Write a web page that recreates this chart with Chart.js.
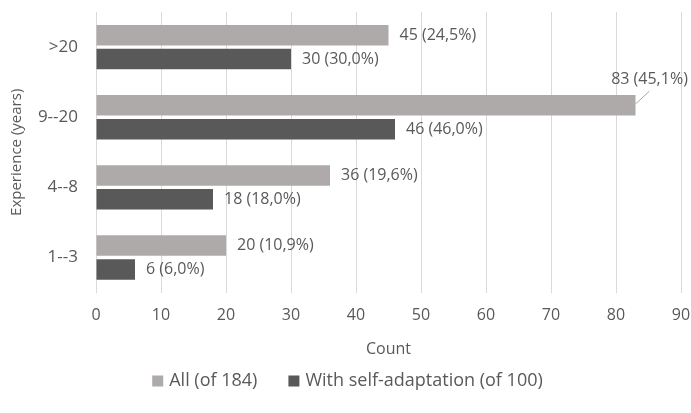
<!DOCTYPE html>
<html>
<head>
<meta charset="utf-8">
<script src="https://cdn.jsdelivr.net/npm/chart.js@4"></script>
<style>
  html, body { margin: 0; padding: 0; background: #fff; }
  #wrap { width: 691px; height: 413px; }
</style>
</head>
<body>
<div id="wrap"><canvas id="myChart" width="691" height="413"></canvas></div>
<script>
const categories = ['>20', '9--20', '4--8', '1--3'];
const allCounts = [45, 83, 36, 20];
const selfCounts = [30, 46, 18, 6];
const totals = [184, 100];
const seriesNames = ['All (of 184)', 'With self-adaptation (of 100)'];
const xTicks = [0, 10, 20, 30, 40, 50, 60, 70, 80, 90];

const FONT = '"Open Sans", sans-serif';
const TEXT = '#595959';

function fmtLabel(v, total) {
    return `${v} (${(v / total * 100).toFixed(1).replace('.', ',')}%)`;
}

// draws "n (p%)" next to each bar
const valueLabels = {
    id: 'valueLabels',
    afterDatasetsDraw(chart) {
        const c = chart.ctx;
        c.save();
        c.font = '16px ' + FONT;
        c.fillStyle = TEXT;
        c.textBaseline = 'middle';
        chart.data.datasets.forEach((ds, di) => {
            const meta = chart.getDatasetMeta(di);
            meta.data.forEach((bar, i) => {
                const txt = fmtLabel(ds.data[i], totals[di]);
                const w = c.measureText(txt).width;
                const top = bar.y - bar.height / 2;
                if (bar.x + 11 + w > chart.width - 4) {
                    // no room on the right: label above, with a leader line
                    c.textAlign = 'center';
                    c.fillText(txt, bar.x + 14, top - 16);
                    c.strokeStyle = '#A6A6A6';
                    c.lineWidth = 1;
                    c.beginPath();
                    c.moveTo(bar.x, top + 9);
                    c.lineTo(bar.x + 14, top - 4);
                    c.stroke();
                } else {
                    c.textAlign = 'left';
                    c.fillText(txt, bar.x + 11, bar.y);
                }
            });
        });
        c.restore();
    }
};

// legend drawn by hand, the built-in one can't space items this wide
const bottomLegend = {
    id: 'bottomLegend',
    afterDraw(chart) {
        const c = chart.ctx;
        const box = 11, gap = 6, spacing = 31, y = 381;
        c.save();
        c.font = '18px ' + FONT;
        c.textBaseline = 'middle';
        c.textAlign = 'left';
        const items = chart.data.datasets.map(ds => ({ text: ds.label, color: ds.backgroundColor, w: c.measureText(ds.label).width }));
        const total = items.reduce((s, it) => s + box + gap + it.w, 0) + spacing * (items.length - 1);
        let x = chart.width / 2 - total / 2 + 2;
        items.forEach(it => {
            c.fillStyle = it.color;
            c.fillRect(x, y - box / 2, box, box);
            c.fillStyle = TEXT;
            c.fillText(it.text, x + box + gap, y);
            x += box + gap + it.w + spacing;
        });
        c.restore();
    }
};

const ctx = document.getElementById('myChart').getContext('2d');

const myChart = new Chart(ctx, {
    type: 'bar',
    data: {
        labels: categories,
        datasets: [{
            label: seriesNames[0],
            data: allCounts,
            backgroundColor: '#AEAAAA',
            categoryPercentage: 0.68,
            barPercentage: 0.86
        }, {
            label: seriesNames[1],
            data: selfCounts,
            backgroundColor: '#595959',
            categoryPercentage: 0.68,
            barPercentage: 0.86
        }]
    },
    options: {
        indexAxis: 'y',
        responsive: false,
        animation: false,
        layout: { padding: { top: 12, right: 0, left: 4, bottom: 54 } },
        plugins: {
            legend: { display: false },
            tooltip: { enabled: false }
        },
        scales: {
            x: {
                min: 0,
                max: 90,
                afterBuildTicks: (axis) => { axis.ticks = xTicks.map(v => ({ value: v })); },
                afterFit: (axis) => { axis.paddingRight = 10; },
                grid: { color: '#D9D9D9', drawTicks: false },
                border: { display: false },
                ticks: { font: { family: FONT, size: 16 }, color: TEXT, padding: 13 },
                title: { display: true, text: 'Count', font: { family: FONT, size: 16 }, color: TEXT, padding: { top: 2, bottom: 0 } }
            },
            y: {
                grid: { display: false, drawTicks: false },
                border: { display: true, color: '#D9D9D9' },
                ticks: { font: { family: FONT, size: 17 }, color: TEXT, padding: 18 },
                title: { display: true, text: 'Experience (years)', font: { family: FONT, size: 15 }, color: TEXT },
                afterFit: (axis) => { axis.width = 92; axis.paddingTop = 0; axis.paddingBottom = 0; }
            }
        }
    },
    plugins: [valueLabels, bottomLegend]
});
</script>
</body>
</html>
